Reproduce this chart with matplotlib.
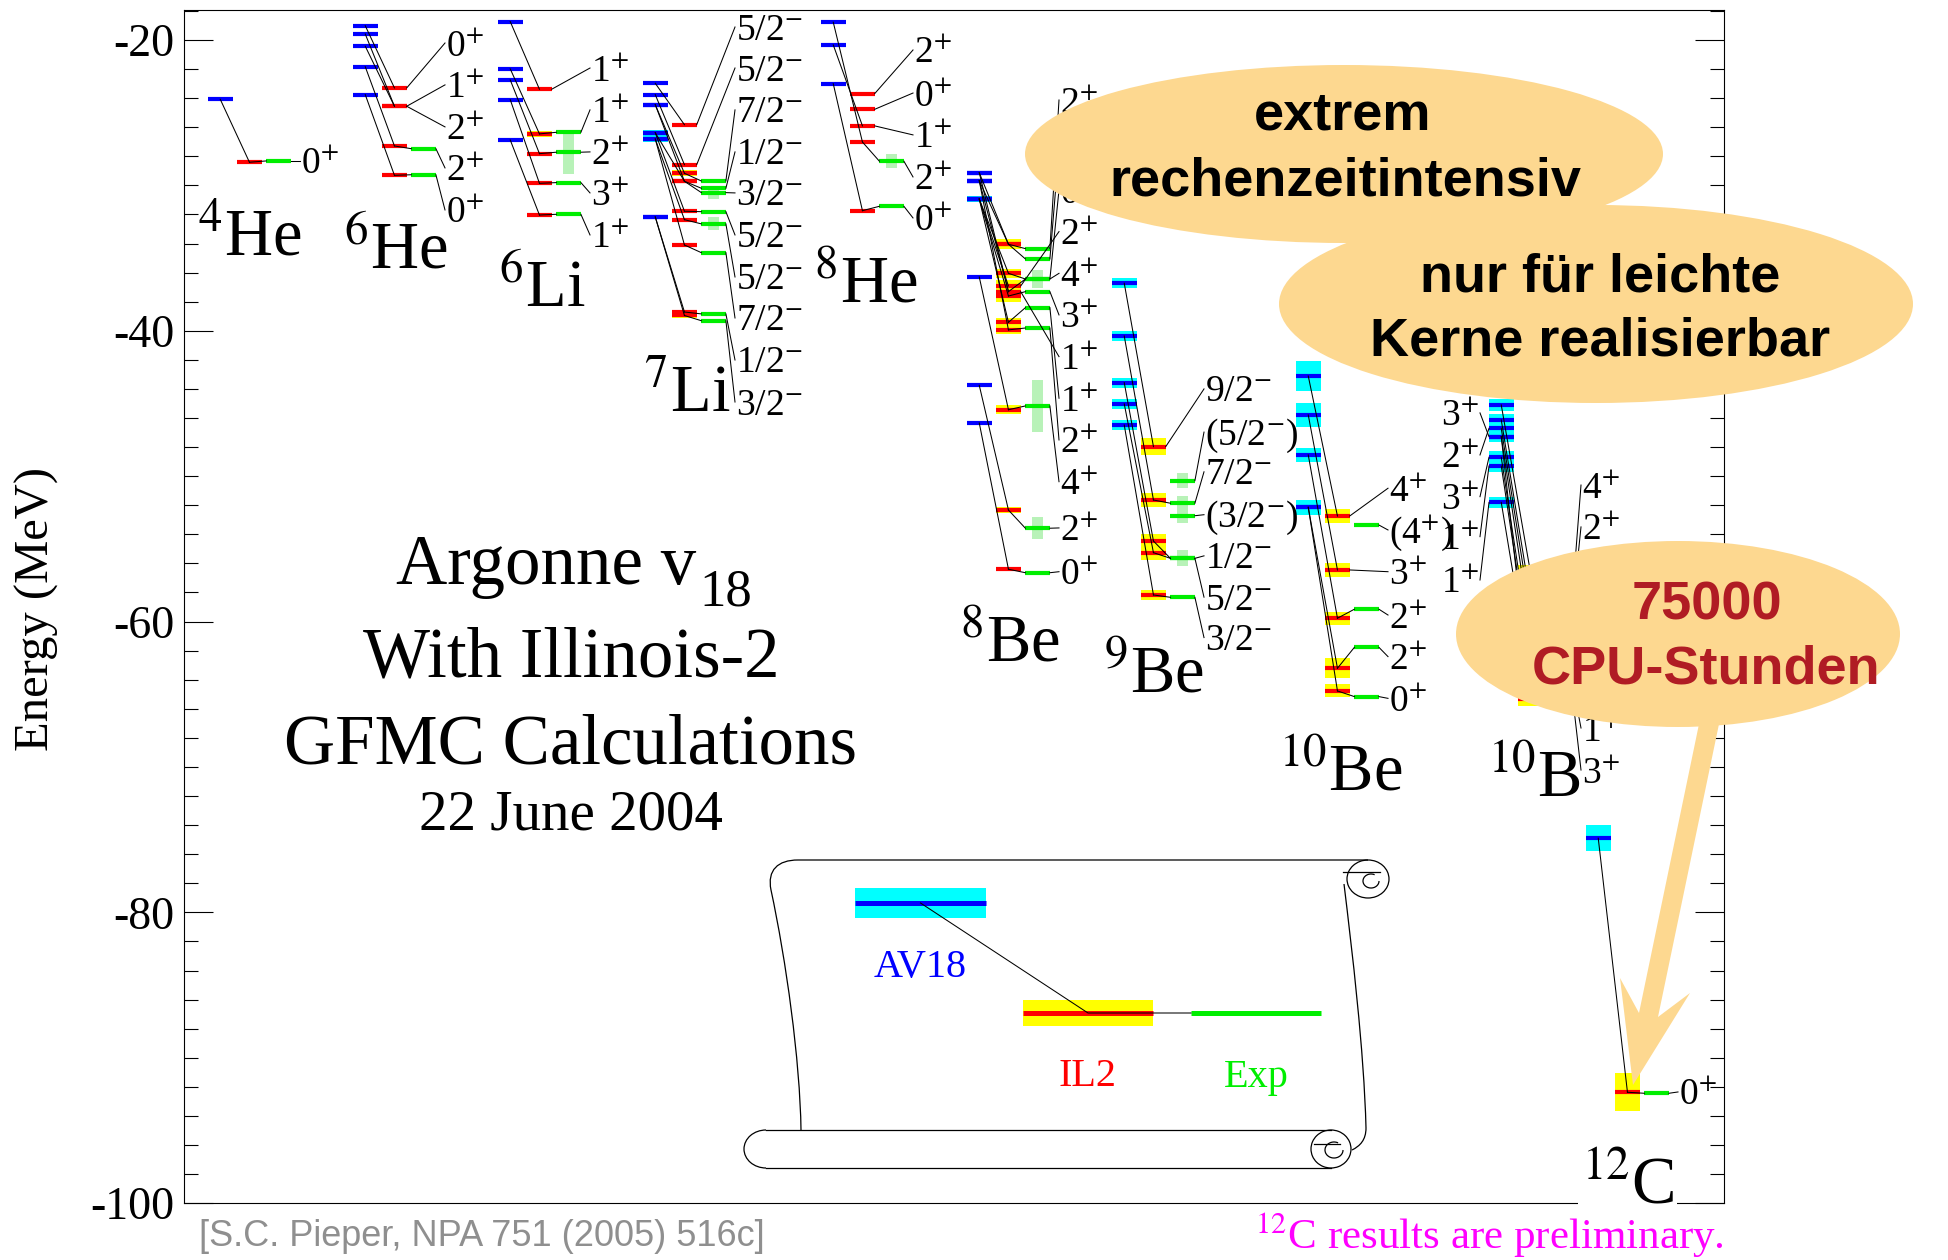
import re
import matplotlib
matplotlib.use("Agg")
import matplotlib.pyplot as plt
from matplotlib import transforms
from matplotlib.patches import Rectangle, Ellipse, Polygon, PathPatch, Arc
from matplotlib.path import Path
from matplotlib.ticker import MultipleLocator

plt.rcParams['font.family'] = ['Liberation Serif', 'DejaVu Serif']
plt.rcParams['mathtext.fontset'] = 'stix'
plt.rcParams['axes.unicode_minus'] = False

# levels: (J^pi, AV18, AV18 err, IL2, IL2 err, experiment, exp. width), MeV
HE4 = [("0+", -24.08, 0.0, -28.41, 0.05, -28.32, 0.0)]
HE6 = [
    ("0+", -19.02, 0.1, -23.30, 0.1, None, 0),
    ("1+", -19.59, 0.1, -24.56, 0.1, None, 0),
    ("2+", -20.43, 0.1, -24.56, 0.1, None, 0),
    ("2+", -21.84, 0.1, -27.29, 0.1, -27.48, 0.1),
    ("0+", -23.76, 0.1, -29.31, 0.1, -29.27, 0),
]
LI6 = [
    ("1+", -18.74, 0.05, -23.39, 0.05, None, 0),
    ("1+", -21.99, 0.1, -26.46, 0.2, -26.35, 0),
    ("2+", -22.75, 0.1, -27.82, 0.1, -27.72, 3.0),
    ("3+", -24.11, 0.1, -29.86, 0.1, -29.81, 0),
    ("1+", -26.88, 0.05, -32.04, 0.05, -31.99, 0),
]
LI7 = [
    ("5/2-", -22.98, 0.05, -25.83, 0.1, None, 0),
    ("5/2-", -23.76, 0.1, -28.58, 0.15, None, 0),
    ("7/2-", -24.45, 0.1, -29.17, 0.2, -29.70, 0),
    ("1/2-", -24.45, 0.1, -29.72, 0.1, -30.20, 0),
    ("3/2-", -26.38, 0.2, -29.72, 0.1, -30.50, 0.9),
    ("5/2-", -26.38, 0.2, -31.78, 0.1, -31.81, 0),
    ("5/2-", -26.81, 0.2, -32.36, 0.1, -32.65, 0.9),
    ("7/2-", -26.81, 0.2, -34.10, 0.1, -34.63, 0),
    ("1/2-", -32.17, 0.1, -38.71, 0.15, -38.84, 0),
    ("3/2-", -32.17, 0.1, -38.95, 0.15, -39.31, 0),
]
HE8 = [
    ("2+", None, 0, -23.69, 0.1, None, 0),
    ("0+", None, 0, -24.77, 0.1, None, 0),
    ("1+", -20.34, 0.05, -25.91, 0.1, None, 0),
    ("2+", -18.78, 0.15, -27.02, 0.1, -28.34, 1.0),
    ("0+", -23.01, 0.05, -31.74, 0.1, -31.44, 0),
]
BE8 = [
    ("2+", -29.13, 0.15, -34.05, 0.35, -34.35, 0),
    ("1+", -29.68, 0.15, -34.05, 0.35, -35.06, 0),
    ("0+", -30.94, 0.2, -36.05, 0.3, -36.44, 1.2),
    ("2+", -30.94, 0.2, -36.92, 0.4, None, 0),
    ("4+", -29.68, 0.15, -37.31, 0.4, -36.44, 0),
    ("3+", -30.94, 0.2, -37.61, 0.4, -37.31, 0),
    ("1+", -29.13, 0.15, -37.31, 0.4, None, 0),
    ("1+", -30.94, 0.2, -39.42, 0.3, -38.41, 0),
    ("2+", -29.68, 0.15, -39.94, 0.3, -39.81, 0),
    ("4+", -36.30, 0.15, -45.43, 0.3, -45.17, 3.6),
    ("2+", -43.75, 0.15, -52.33, 0.2, -53.58, 1.5),
    ("0+", -46.34, 0.1, -56.40, 0.15, -56.64, 0),
]
BE9 = [
    ("9/2-", -36.73, 0.35, -47.97, 0.6, None, 0),
    ("(5/2-)", None, 0, None, 0, -50.31, 1.0),
    ("7/2-", -40.36, 0.35, -51.64, 0.5, -51.86, 1.0),
    ("(3/2-)", None, 0, None, 0, -52.72, 1.0),
    ("1/2-", -43.57, 0.35, -54.46, 0.5, -55.65, 1.1),
    ("5/2-", -45.03, 0.35, -55.26, 0.5, -55.65, 0),
    ("3/2-", -46.48, 0.35, -58.17, 0.35, -58.33, 0),
]
BE10 = [
    ("4+", -43.11, 1.0, -52.74, 0.45, None, 0),
    ("(4+)", None, 0, None, 0, -53.36, 0),
    ("3+", -45.79, 0.8, -56.45, 0.45, None, 0),
    ("2+", -48.54, 0.5, -59.77, 0.45, -59.15, 0),
    ("2+", -52.14, 0.5, -63.21, 0.7, -61.77, 0),
    ("0+", -52.14, 0.5, -64.77, 0.45, -65.16, 0),
]
B10 = [
    ("4+", -45.10, 0.4, -56.6, 0.5, -58.72, 0),
    ("2+", -46.13, 0.4, -58.4, 0.5, -59.60, 0),
    ("3+", -46.71, 0.4, -59.4, 0.5, -59.98, 0),
    ("2+", -47.28, 0.4, -60.6, 0.5, -61.16, 0),
    ("1+", -48.70, 0.4, -61.9, 0.5, -62.60, 0),
    ("0+", -49.30, 0.4, -62.6, 0.5, -63.00, 0),
    ("1+", -51.80, 0.4, -63.9, 0.5, -64.03, 0),
    ("3+", -47.28, 0.4, -65.3, 0.5, -64.75, 0),
]
C12 = [("0+", -74.90, 0.9, -92.37, 1.3, -92.44, 0)]

# heights (MeV) of the J^pi labels, top to bottom
HE4_LBL = [-28.32]
HE6_LBL = [-20.21, -23.09, -25.98, -28.80, -31.69]
LI6_LBL = [-21.93, -24.81, -27.70, -30.52, -33.41]
LI7_LBL = [-19.11, -21.93, -24.81, -27.70, -30.52, -33.41, -36.30, -39.12, -42.01, -44.90]
HE8_LBL = [-20.69, -23.65, -26.53, -29.42, -32.24]
BE8_LBL = [-24.13, -27.45, -30.32, -33.18, -36.05, -38.91, -41.78, -44.64,
           -47.51, -50.38, -53.56, -56.57]
BE9_LBL = [-44.0, -46.97, -49.7, -52.65, -55.48, -58.32, -61.1]
BE10_LBL = [-50.83, -53.70, -56.57, -59.55, -62.41, -65.28]
B10_LBL = [-50.61, -53.49, -56.31, -59.20, -62.09, -64.91, -67.32, -70.21]
C12_LBL = [-92.35]

# AV18 spins of 10B, written on the left of its AV18 column
B10_AV18_SPIN = ["3+", "2+", "3+", "1+", "1+"]
B10_AV18_LEVEL = [-47.28, -46.71, -48.70, -49.30, -51.80]
B10_AV18_LBL = [-45.65, -48.54, -51.41, -54.16, -57.14]

NAMES = [r"$^{4}$He", r"$^{6}$He", r"$^{6}$Li", r"$^{7}$Li", r"$^{8}$He",
         r"$^{8}$Be", r"$^{9}$Be", r"$^{10}$Be", r"$^{10}$B", r"$^{12}$C"]
LEVELS = [HE4, HE6, LI6, LI7, HE8, BE8, BE9, BE10, B10, C12]
LABEL_Y = [HE4_LBL, HE6_LBL, LI6_LBL, LI7_LBL, HE8_LBL, BE8_LBL, BE9_LBL,
           BE10_LBL, B10_LBL, C12_LBL]

# layout: left edge of each nucleus block (px) and its name (px, MeV)
COL_X = [208, 353, 498, 643, 821, 967, 1112, 1296, 1489, 1586]
NAME_XY = [(197, -34.79), (343, -35.68), (498, -38.36), (643, -45.58),
           (813, -38.02), (959, -62.71), (1103, -64.84), (1278, -71.58),
           (1487, -72.06), (1581, -99.99)]

BLUE, CYAN = '#0000ff', '#00ffff'
RED, YELLOW = '#ff0000', '#ffff00'
GREEN, PALE = '#00ee00', '#b8f2b8'
BUBBLE = '#fdd890'
W, DX, LDX = 24.5, 29.2, 92
WB = 11   # width of the experimental width band

fig = plt.figure(figsize=(19.48, 12.6), dpi=100)
ax = fig.add_axes([184 / 1948, 1 - 1203.2 / 1260, 1540 / 1948, 1193.2 / 1260])
ax.set_xlim(184, 1724)
ax.set_ylim(-100, -17.94)
ax.set_xticks([])
ax.yaxis.set_major_locator(MultipleLocator(20))
ax.yaxis.set_minor_locator(MultipleLocator(2))
ax.tick_params(axis='y', which='both', direction='in', left=True, right=True,
               width=0.8, labelsize=33, pad=7)
ax.tick_params(axis='y', which='major', length=21)
ax.tick_params(axis='y', which='minor', length=10)
for sp in ax.spines.values():
    sp.set_linewidth(0.8)

lbl_tr = transforms.offset_copy(ax.transData, fig=fig, y=-9, units='points')


def spin_tex(s):
    return re.sub(r'([+-])', r'$^{\1}$', s)


def band(x, e, half, color, width=W):
    if e is not None and half > 0:
        ax.add_patch(Rectangle((x, e - half), width, 2 * half, fc=color, ec='none', zorder=1))


def bar(x, e, color):
    if e is not None:
        ax.plot([x, x + W], [e, e], color=color, lw=3, solid_capstyle='butt', zorder=2)


def link(xs, ys):
    ax.plot(xs, ys, color='k', lw=0.75, zorder=3)


for levels, lys, x0 in zip(LEVELS, LABEL_Y, COL_X):
    xb, xr, xg = x0, x0 + DX, x0 + 2 * DX
    for (spin, av, av_err, il, il_err, ex, ex_w), ly in zip(levels, lys):
        band(xb, av, av_err, CYAN)
        band(xr, il, il_err, YELLOW)
        band(xg + (W - WB) / 2, ex, ex_w / 2, PALE, WB)
        bar(xb, av, BLUE)
        bar(xr, il, RED)
        bar(xg, ex, GREEN)
        if av is not None and il is not None:
            link([xb + W / 2, xr + W / 2], [av, il])
        if il is not None and ex is not None:
            link([xr + W / 2, xg], [il, ex])
        if ex is not None:
            end = (xg + W, ex)
        else:
            end = (xr + W, il)
        link([end[0], x0 + LDX], [end[1], ly])
        ax.text(x0 + LDX + 1, ly, spin_tex(spin), transform=lbl_tr, fontsize=27,
                ha='left', va='baseline', clip_on=False, zorder=4)

# AV18 spin labels of 10B
x10b = COL_X[NAMES.index(r"$^{10}$B")]
for spin, e, ly in zip(B10_AV18_SPIN, B10_AV18_LEVEL, B10_AV18_LBL):
    link([x10b - 9, x10b], [ly, e])
    ax.text(x10b - 10, ly, spin_tex(spin), transform=lbl_tr, fontsize=27,
            ha='right', va='baseline', zorder=4)

for name, (nx, ny) in zip(NAMES, NAME_XY):
    t = ax.text(nx, ny, name, fontsize=48, ha='left', va='baseline',
                clip_on=False, zorder=6)
    if name == r"$^{12}$C":
        t.set_bbox(dict(facecolor='white', edgecolor='none', pad=2))

fig.text(37 / 1948, 1 - 609 / 1260, "Energy (MeV)", rotation=90, fontsize=35,
         ha='center', va='center')

# overlay in pixel coordinates for the title block, legend scroll and callouts
ov = fig.add_axes([0, 0, 1, 1], zorder=5)
ov.set_xlim(0, 1948)
ov.set_ylim(1260, 0)
ov.axis('off')
ov.patch.set_visible(False)

ov.text(696, 584, "Argonne v", fontsize=51, ha='right', va='baseline')
ov.text(699, 606, "18", fontsize=38, ha='left', va='baseline')
for txt, yb, fs in [("With Illinois-2", 677, 51), ("GFMC Calculations", 764, 51),
                    ("22 June 2004", 830, 41)]:
    ov.text(571, yb, txt, fontsize=fs, ha='center', va='baseline')

# scroll outline
sheet = Path([(801, 1130), (800, 1060), (786, 960), (771, 890),
              (767, 870), (778, 860), (798, 860), (1368, 860)],
             [Path.MOVETO, Path.CURVE4, Path.CURVE4, Path.CURVE4,
              Path.CURVE4, Path.CURVE4, Path.CURVE4, Path.LINETO])
ov.add_patch(PathPatch(sheet, fc='none', ec='k', lw=0.9))
right_edge = Path([(1344, 884), (1352, 950), (1364, 1050), (1366, 1128),
                   (1366, 1140), (1360, 1146), (1352, 1150)],
                  [Path.MOVETO, Path.CURVE4, Path.CURVE4, Path.CURVE4,
                   Path.CURVE4, Path.CURVE4, Path.CURVE4])
ov.add_patch(PathPatch(right_edge, fc='none', ec='k', lw=0.9))
ov.add_patch(Arc((1368, 879), 42, 38, theta1=0, theta2=360, ec='k', lw=0.9))
ov.add_patch(Arc((1371, 881), 16, 14, theta1=0, theta2=300, ec='k', lw=0.9))
ov.plot([1343, 1380], [872, 872], color='k', lw=0.9)
ov.plot([766, 1331], [1130, 1130], color='k', lw=0.9)
ov.plot([766, 1331], [1168, 1168], color='k', lw=0.9)
ov.add_patch(Arc((766, 1149), 44, 38, theta1=90, theta2=270, ec='k', lw=0.9))
ov.add_patch(Arc((1331, 1149), 40, 38, theta1=0, theta2=360, ec='k', lw=0.9))
ov.add_patch(Arc((1334, 1150), 18, 16, theta1=0, theta2=300, ec='k', lw=0.9))
ov.plot([1314, 1340], [1144, 1144], color='k', lw=0.9)

# key
ov.add_patch(Rectangle((855, 888), 131, 30, fc=CYAN, ec='none'))
ov.plot([855, 986], [903, 903], color=BLUE, lw=3.6, solid_capstyle='butt')
ov.add_patch(Rectangle((1023, 1000), 130, 26, fc=YELLOW, ec='none'))
ov.plot([1023, 1153], [1013, 1013], color=RED, lw=3.6, solid_capstyle='butt')
ov.plot([1191, 1321], [1013, 1013], color=GREEN, lw=3.6, solid_capstyle='butt')
ov.plot([920.5, 1088, 1191], [903, 1013, 1013], color='k', lw=0.75)
ov.text(920, 968, "AV18", color=BLUE, fontsize=29, ha='center', va='center')
ov.text(1088, 1076, "IL2", color=RED, fontsize=29, ha='center', va='center')
ov.text(1256, 1077, "Exp", color=GREEN, fontsize=29, ha='center', va='center')

# callouts
for cx, cy, a, b in [(1344, 154, 319, 89), (1596, 304, 317, 99), (1678, 634, 222, 93)]:
    ov.add_patch(Ellipse((cx, cy), 2 * a, 2 * b, fc=BUBBLE, ec='none', zorder=5))
ov.add_patch(Polygon([(1704, 700), (1639, 1013), (1620, 978), (1633, 1085),
                      (1690, 993), (1658, 1017), (1724, 700)],
                     closed=True, fc=BUBBLE, ec='none', zorder=5))
sans = ['Liberation Sans', 'DejaVu Sans']
for txt, x, yb, col in [("extrem", 1343, 130, 'k'), ("rechenzeitintensiv", 1345, 196, 'k'),
                        ("nur für leichte", 1600, 291, 'k'),
                        ("Kerne realisierbar", 1600, 356, 'k'),
                        ("75000", 1707, 619, '#b01c24'), ("CPU-Stunden", 1706, 683, '#b01c24')]:
    ov.text(x, yb, txt, family=sans, fontweight='bold', fontsize=39, color=col,
            ha='center', va='baseline', zorder=6)

ov.text(199, 1246, "[S.C. Pieper, NPA 751 (2005) 516c]", family=sans, fontsize=26,
        color='#8f8f8f', ha='left', va='baseline')
ov.text(1724, 1249, r"$^{12}$C results are preliminary.", fontsize=31,
        color='#ff00ff', ha='right', va='baseline')

fig.savefig('out.png', dpi=100)
